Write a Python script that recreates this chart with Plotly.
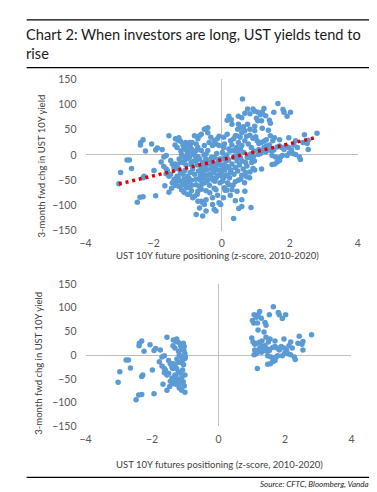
import numpy as np
import plotly.graph_objects as go

# ---------------- data (z-score of UST 10Y futures positioning, 3m fwd yield chg in bp) ----------------
# short positioning (z <= -1)
short_z = [-3.02, -2.97, -2.78, -2.71, -2.65, -2.48, -2.40, -2.31, -2.31, -2.28,
           -2.38, -2.31, -2.39, -2.24, -2.06, -1.99, -1.94, -1.89, -1.94, -1.75,
           -1.78, -1.70, -1.63, -1.55, -1.67, -1.55, -1.47, -1.60, -1.63, -1.50,
           -1.45, -1.40, -1.36, -1.28, -1.26, -1.37, -1.31, -1.21, -1.14, -1.08,
           -1.06, -1.04, -1.01, -1.18, -1.11, -1.08, -1.01, -1.00, -1.36, -1.31,
           -1.26, -1.38, -1.21, -1.31, -1.14, -1.08, -1.01, -1.11, -1.21, -1.14,
           -1.26, -1.18, -1.11, -1.01, -1.45, -1.36, -1.31, -1.40, -1.55, -1.50,
           -1.70, -1.63, -1.20, -1.15, -1.05, -1.25, -1.03, -1.12, -1.22, -1.06,
           -1.03, -1.28]
short_chg = [-57, -35, -10, -10, -27, -94, -84, -83, -45, -42,
             25, 30, 20, 8, 22, -31, -81, 14, 10, 11,
             -14, -4, -1, 38, -61, -74, -66, -31, -37, -11,
             -18, -25, 32, 29, 34, 20, 15, 27, 20, 16,
             25, 10, 3, 1, -4, -10, -7, -4, -18, -23,
             -28, -28, -35, -42, -38, -31, -42, -48, -52, -59,
             -62, -69, -74, -78, -55, -60, -52, -48, -42, -38,
             -23, -28, 8, -15, -20, -8, 18, 12, -15, -56,
             -65, -44]

# neutral positioning (-1 < z < 1)
neutral_z = [0.61, 0.21, 0.28, 0.16, 0.49, 0.59, 0.68, 0.76, 0.83, 0.92,
             0.97, 0.30, 0.49, 0.64, 0.76, 0.83, 0.97, 0.47, 0.54, 0.59,
             0.68, 0.40, 0.54, 0.73, 0.83, 0.92, 0.97, 0.06, 0.16, 0.26,
             0.35, 0.44, 0.49, 0.59, 0.68, 0.78, 0.87, 0.06, 0.21, 0.35,
             0.44, -0.94, -0.80, -0.75, -0.60, -0.51, -0.46, -0.41, -0.89, -0.80,
             -0.70, -0.60, -0.51, -0.46, -0.32, -0.22, -0.13, -0.08, -0.37, -0.27,
             -0.17, -0.41, -0.75, -0.85, -0.08, -0.65, -0.41, -0.70, -0.89, -0.75,
             -0.99, -0.89, -0.75, -0.65, -0.51, -0.41, -0.89, -0.80, -0.70, -0.65,
             -0.56, -0.75, -0.56, -0.46, -0.51, -0.60, -0.22, -0.17, -0.03, -0.08,
             0.35, 0.50, 0.59, 0.86, 0.40, 0.59, 0.68, -0.94, -0.85, -0.46,
             -0.27, -0.70, -0.46, -0.22, -0.17, -0.27, 0.30, 0.21, 0.40, 0.49,
             0.59, 0.73, 0.83, 0.92, 0.97, 0.03, 0.09, 0.06, 0.12, 0.18,
             0.00, 0.10, 0.20, 0.25, 0.15, 0.65, 0.75, 0.85, 0.95, 0.70,
             0.90, 0.55, 0.45, 0.35, 0.50, -0.95, -0.90, -0.85, -0.80, -0.78,
             -0.72, -0.68, -0.65, -0.62, -0.60, -0.57, -0.55, -0.52, -0.50, -0.48,
             -0.45, -0.43, -0.40, -0.38, -0.36, -0.33, -0.30, -0.28, -0.25, -0.23,
             -0.20, -0.18, -0.15, -0.12, -0.10, -0.08, -0.05, -0.03, 0.00, -0.97,
             -0.92, -0.88, -0.82, -0.76, -0.70, -0.66, -0.63, -0.58, -0.53, -0.47,
             -0.42, -0.35, -0.32, -0.27, -0.22, -0.20, -0.16, -0.13, -0.07, -0.02,
             0.02, 0.05, 0.08, 0.11, 0.14, 0.17, 0.20, 0.23, 0.27, 0.30,
             0.33, 0.36, 0.40, 0.43, 0.47, 0.52, 0.56, 0.60, 0.63, 0.67,
             0.70, 0.74, 0.78, 0.82, 0.88, 0.93, 0.96, -0.98, -0.93, -0.87,
             0.02, 0.08, 0.15, 0.25, 0.30, 0.38, 0.48, 0.55, -0.95, -0.72,
             -0.60, -0.35, -0.12, 0.05, 0.15, 0.25, 0.45, -0.55, -0.25, 0.10]
neutral_chg = [111, 77, 70, 69, 77, 74, 83, 91, 82, 91,
               87, 61, 61, 56, 61, 51, 57, 51, 54, 44,
               48, 38, 35, 37, 39, 33, 48, 35, 41, 28,
               32, 38, 25, 19, 28, 22, 15, 15, 12, 9,
               15, 25, 38, 22, 41, 51, 52, 44, 12, 5,
               15, 9, 19, 2, 35, 28, 32, 37, 25, 19,
               22, 9, 9, 2, 19, 38, 54, 32, -20, -11,
               -53, -50, -59, -46, -40, -50, -71, -82, -92, -105,
               -95, -118, -121, -111, -98, -92, -108, -111, -98, -95,
               -126, -106, -102, -104, -91, -89, -72, -63, -85, -89,
               -85, -72, -71, -66, -69, -98, -69, -59, -53, -50,
               -40, -43, -34, -27, -30, -20, -30, -45, -12, -8,
               -8, -2, -25, -35, -40, 5, -5, 2, 8, -15,
               -10, -5, -12, -5, 0, -5, -15, -28, -38, -2,
               -20, -32, -8, -50, -25, -15, -35, 0, -55, -22,
               -30, -10, -40, -18, -60, -28, -5, -45, -15, -35,
               -52, -25, 3, -40, -12, -30, -55, -20, -42, -45,
               -35, -60, -12, -48, -3, -62, -40, -58, -45, -8,
               -50, -38, -15, -25, -5, -30, -45, -18, -8, -35,
               -52, -28, -65, -40, -22, -55, -10, -45, -30, -18,
               -60, -38, -25, -3, -32, -20, -48, -12, -28, -55,
               -35, -22, -5, -45, -15, -3, -12, 8, 18, 25,
               5, 22, 0, 8, 20, -2, 5, 12, -78, -78,
               -68, -75, -80, -85, -70, -80, -72, -30, -50, -70]

# long positioning (z >= 1)
long_z = [1.65, 1.24, 1.19, 1.07, 1.14, 1.02, 1.06, 1.17, 1.29, 1.53,
          1.80, 1.83, 1.92, 2.02, 1.40, 1.43, 1.19, 1.37, 1.43, 1.00,
          1.04, 1.09, 1.16, 1.24, 1.31, 1.50, 1.55, 1.70, 1.97, 2.17,
          2.43, 2.80, 2.54, 2.39, 2.51, 2.54, 1.09, 1.16, 1.24, 1.31,
          1.37, 1.07, 1.14, 1.29, 1.48, 1.53, 1.63, 1.70, 1.76, 1.83,
          1.89, 1.97, 2.05, 2.09, 1.48, 1.58, 1.66, 1.73, 1.78, 1.70,
          1.63, 1.56, 1.48, 1.92, 1.99, 2.17, 2.28, 2.31, 2.22, 2.12,
          1.17, 1.40, 1.46]
long_chg = [102, 92, 85, 85, 80, 73, 68, 68, 78, 85,
            90, 85, 77, 85, 69, 63, 53, 49, 38, 36,
            28, 23, 25, 27, 30, 28, 34, 30, 34, 28,
            40, 43, 29, 25, 23, 11, 11, 8, 15, 18,
            10, 1, 3, 6, 13, 10, 16, 18, 15, 11,
            18, 15, 10, 3, -1, -4, -7, -4, -1, -11,
            -14, -18, -19, -1, 4, 1, -4, -9, 15, 20,
            -28, 20, 8]

x_ticks = [-4, -2, 0, 2, 4]
y_ticks = [-150, -100, -50, 0, 50, 100, 150]

title_lines = ["Chart 2: When investors are long, UST yields tend to", "rise"]
y_title = "3-month fwd chg in UST 10Y yield"
x_title_top = "UST 10Y future positioning (z-score, 2010-2020)"
x_title_bottom = "UST 10Y futures positioning (z-score, 2010-2020)"
source_text = "Source: CFTC, Bloomberg, Vanda"

# ---------------- derived ----------------
all_z = np.array(short_z + neutral_z + long_z, dtype=float)
all_chg = np.array(short_chg + neutral_chg + long_chg, dtype=float)
ext_z = short_z + long_z
ext_chg = short_chg + long_chg

# linear trendline fitted to the full sample
slope, intercept = np.polyfit(all_z, all_chg, 1)
trend_x = np.linspace(all_z.min(), all_z.max(), 50)
trend_y = slope * trend_x + intercept

W, H = 377, 492
FONT = "Lato, Carlito, Calibri, 'Open Sans', sans-serif"
BLUE = "#5b9bd5"
RED = "#e00000"
GRID = "#bfbfbf"
TICK_COL = "#595959"

fig = go.Figure()
fig.add_trace(go.Scatter(x=all_z, y=all_chg, mode="markers",
                         marker=dict(color=BLUE, size=5.5, line=dict(width=0)),
                         xaxis="x", yaxis="y", showlegend=False))
fig.add_trace(go.Scatter(x=trend_x, y=trend_y, mode="lines",
                         line=dict(color=RED, width=3.5, dash="3px,3.8px"),
                         xaxis="x", yaxis="y", showlegend=False))
fig.add_trace(go.Scatter(x=ext_z, y=ext_chg, mode="markers",
                         marker=dict(color=BLUE, size=5.5, line=dict(width=0)),
                         xaxis="x2", yaxis="y2", showlegend=False))

def xax(domain, anchor):
    return dict(domain=domain, anchor=anchor, range=[-4, 4], tickvals=x_ticks,
                showgrid=False, showline=False, zeroline=True, zerolinecolor=GRID,
                zerolinewidth=1.3, ticks="", ticklabelstandoff=5,
                tickfont=dict(size=10.5, color=TICK_COL, family=FONT), fixedrange=True)

def yax(domain, anchor):
    return dict(domain=domain, anchor=anchor, range=[-150, 150], tickvals=y_ticks,
                showgrid=False, showline=False, zeroline=True, zerolinecolor=GRID,
                zerolinewidth=1.3, ticks="", ticklabelstandoff=8,
                tickfont=dict(size=10.5, color=TICK_COL, family=FONT), fixedrange=True)

def px_x(p):
    return p / W

def px_y(p):
    return 1 - p / H

annotations = [
    dict(text=title_lines[0], x=px_x(10), y=px_y(21), xanchor="left", yanchor="middle",
         font=dict(size=14.6, color="#1a1a1a", family=FONT)),
    dict(text=title_lines[1], x=px_x(10), y=px_y(40), xanchor="left", yanchor="middle",
         font=dict(size=14.6, color="#1a1a1a", family=FONT)),
    dict(text=y_title, x=px_x(28), y=px_y(156), textangle=-90, xanchor="center", yanchor="middle",
         font=dict(size=9.5, color="#404040", family=FONT)),
    dict(text=y_title, x=px_x(25), y=px_y(358), textangle=-90, xanchor="center", yanchor="middle",
         font=dict(size=9.5, color="#404040", family=FONT)),
    dict(text=x_title_top, x=px_x(208.5), y=px_y(248), xanchor="center", yanchor="middle",
         font=dict(size=9.5, color="#404040", family=FONT)),
    dict(text=x_title_bottom, x=px_x(210.5), y=px_y(462), xanchor="center", yanchor="middle",
         font=dict(size=9.5, color="#404040", family=FONT)),
    dict(text="<i>" + source_text + "</i>", x=px_x(366), y=px_y(482), xanchor="right", yanchor="middle",
         font=dict(size=8, color="#262626", family=FONT)),
]
for a in annotations:
    a.update(xref="paper", yref="paper", showarrow=False)

shapes = []
for yy in (6, 55, 475):
    shapes.append(dict(type="line", xref="paper", yref="paper",
                       x0=px_x(13), x1=px_x(367), y0=px_y(yy), y1=px_y(yy),
                       line=dict(color="#000000", width=1.2)))

fig.update_layout(
    width=W, height=H, margin=dict(l=0, r=0, t=0, b=0),
    paper_bgcolor="white", plot_bgcolor="white",
    font=dict(family=FONT),
    xaxis=xax([73.3 / W, 352.3 / W], "y"),
    yaxis=yax([px_y(222), px_y(67)], "x"),
    xaxis2=xax([73.3 / W, 345.7 / W], "y2"),
    yaxis2=yax([px_y(422.7), px_y(276.7)], "x2"),
    annotations=annotations, shapes=shapes,
)

fig.write_html("out.html", config={"displayModeBar": False})
